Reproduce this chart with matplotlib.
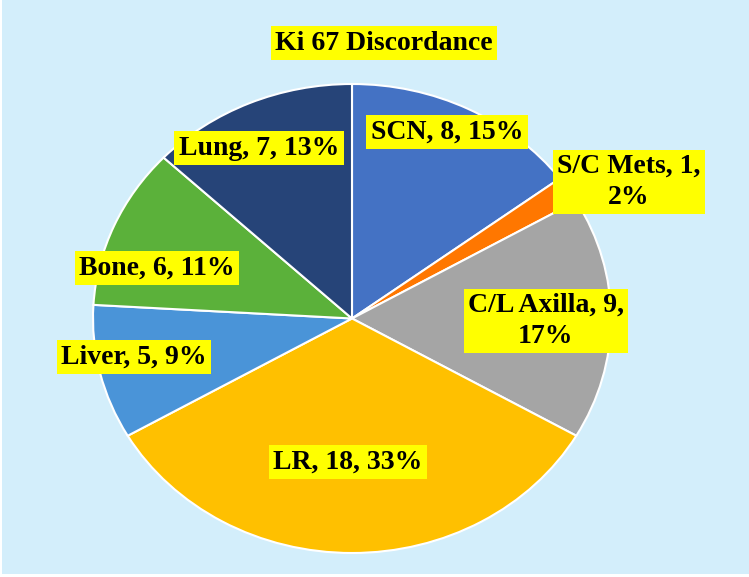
import matplotlib
matplotlib.use("Agg")
import matplotlib.pyplot as plt
from matplotlib.patches import Rectangle

# data, clockwise from 12 o'clock
sites = ["SCN", "S/C Mets", "C/L Axilla", "LR", "Liver", "Bone", "Lung"]
counts = [8, 1, 9, 18, 5, 6, 7]
percents = [15, 2, 17, 33, 9, 11, 13]
colors = ["#4472C4", "#FF7700", "#A5A5A5", "#FFC000", "#4A94D8", "#5BB13A", "#264478"]

# label text and where it sits (pixels from top-left)
labels = [
    "SCN, 8, 15%",
    "S/C Mets, 1,\n2%",
    "C/L Axilla, 9,\n17%",
    "LR, 18, 33%",
    "Liver, 5, 9%",
    "Bone, 6, 11%",
    "Lung, 7, 13%",
]
label_pos = [(447, 132), (629, 182), (546, 321), (348, 462), (134, 357), (157, 268), (259, 148)]

W, H = 749, 577
fig = plt.figure(figsize=(W / 100, H / 100), dpi=100)
fig.patch.set_facecolor("white")
fig.patches.append(Rectangle((2 / W, 3 / H), 1, 1, transform=fig.transFigure,
                             facecolor="#D3EEFB", edgecolor="none", zorder=-5))

# the pie is a bit wider than tall in the reference, so let the axes stretch it
left, right, top, bottom = 93, 611, 84, 553
ax = fig.add_axes([left / W, 1 - bottom / H, (right - left) / W, (bottom - top) / H])
ax.set_zorder(1)
ax.pie(counts, colors=colors, startangle=90, counterclock=False, radius=1,
       wedgeprops=dict(edgecolor="white", linewidth=1.5))
ax.set_aspect("auto")
ax.set_xlim(-1, 1)
ax.set_ylim(-1, 1)
ax.axis("off")
ax.patch.set_visible(False)

font = dict(family="Liberation Serif", weight="bold", size=20)
box = dict(boxstyle="square,pad=0.16", facecolor="#FFFF00", edgecolor="none")

for text, (x, y) in zip(labels, label_pos):
    fig.text(x / W, 1 - y / H, text, ha="center", va="center", ma="center",
             linespacing=1.3, bbox=box, zorder=5, **font)

fig.text(384 / W, 1 - 43 / H, "Ki 67 Discordance", ha="center", va="center",
         bbox=box, zorder=5, **font)

fig.savefig("out.png", dpi=100)
